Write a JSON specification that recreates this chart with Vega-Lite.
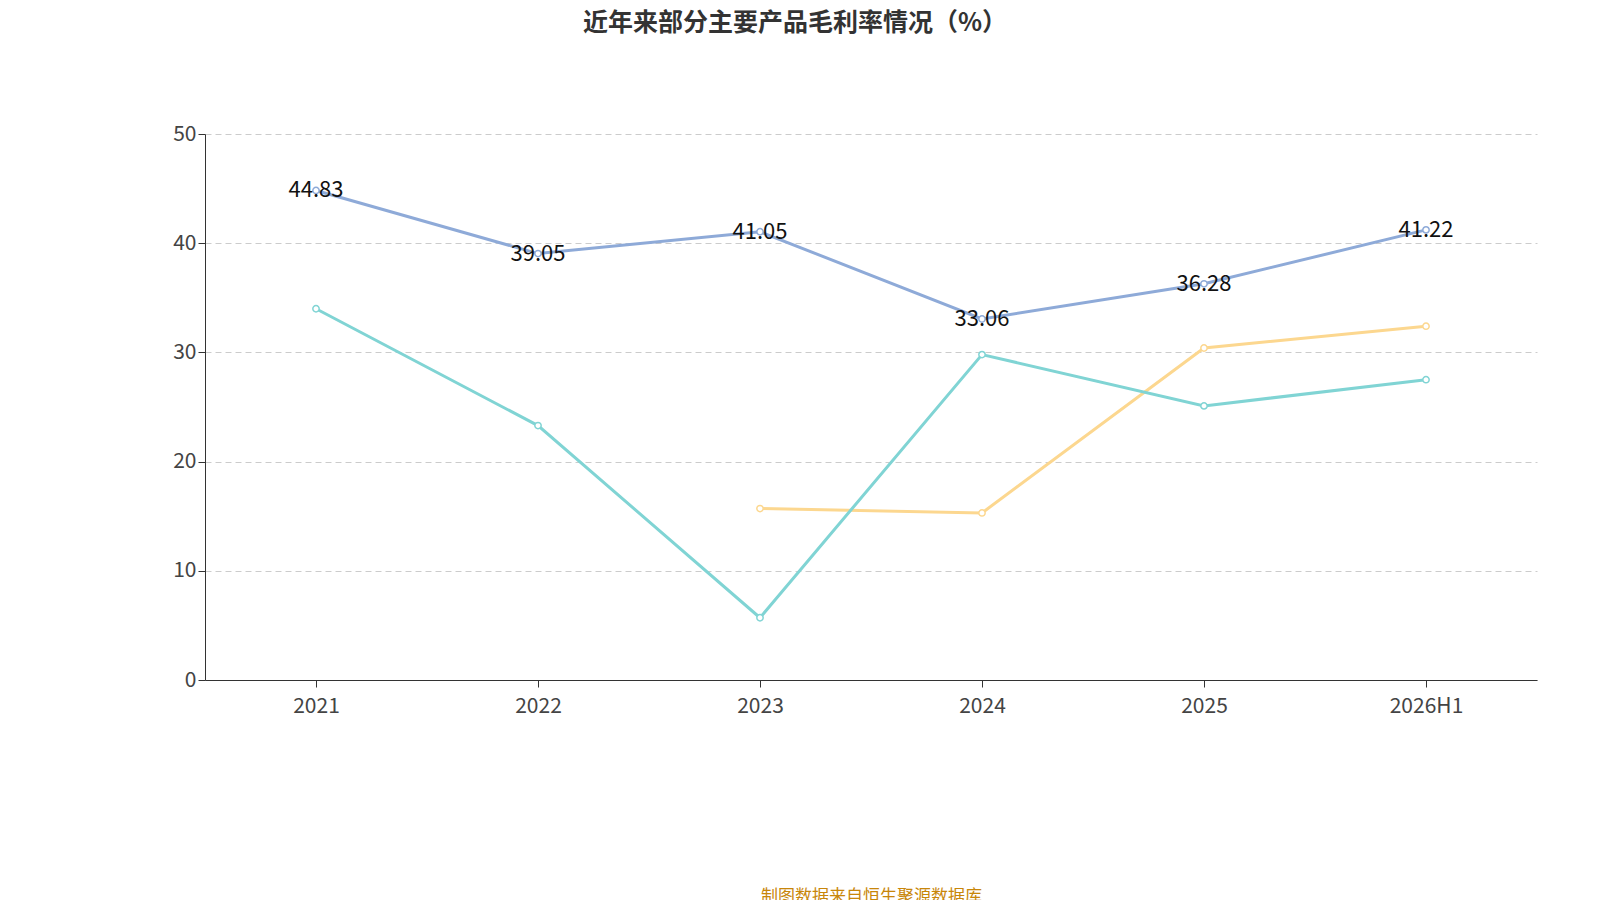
{
  "$schema": "https://vega.github.io/schema/vega-lite/v6.json",
  "autosize": "none",
  "width": 1332,
  "height": 546,
  "padding": {"left": 205, "top": 134, "right": 63, "bottom": 220},
  "background": "white",
  "config": {"view": {"stroke": null}, "font": "Noto Sans CJK SC"},
  "title": {"text": "近年来部分主要产品毛利率情况（%）", "fontSize": 25, "fontWeight": "bold", "color": "#333333", "anchor": "middle", "dx": -76, "offset": 87},
  "data": {"values": [
    {"year": "2021", "s": "功能耐火材料", "v": 44.83},
    {"year": "2022", "s": "功能耐火材料", "v": 39.05},
    {"year": "2023", "s": "功能耐火材料", "v": 41.05},
    {"year": "2024", "s": "功能耐火材料", "v": 33.06},
    {"year": "2025", "s": "功能耐火材料", "v": 36.28},
    {"year": "2026H1", "s": "功能耐火材料", "v": 41.22},
    {"year": "2023", "s": "碳化硅复合材料", "v": 15.7},
    {"year": "2024", "s": "碳化硅复合材料", "v": 15.3},
    {"year": "2025", "s": "碳化硅复合材料", "v": 30.4},
    {"year": "2026H1", "s": "碳化硅复合材料", "v": 32.4},
    {"year": "2021", "s": "不定形耐火材料", "v": 34.0},
    {"year": "2022", "s": "不定形耐火材料", "v": 23.3},
    {"year": "2023", "s": "不定形耐火材料", "v": 5.7},
    {"year": "2024", "s": "不定形耐火材料", "v": 29.8},
    {"year": "2025", "s": "不定形耐火材料", "v": 25.1},
    {"year": "2026H1", "s": "不定形耐火材料", "v": 27.5}
  ]},
  "encoding": {
    "x": {"field": "year", "type": "ordinal", "scale": {"type": "point", "padding": 0.5},
      "axis": {"title": "制图数据来自恒生聚源数据库", "titleColor": "#c8860a", "titleFontSize": 17, "titleFontWeight": "normal", "titlePadding": 172,
        "labelAngle": 0, "labelFontSize": 21, "labelColor": "#444", "labelPadding": 8, "domainColor": "#333", "tickColor": "#333", "tickSize": 7, "grid": false}},
    "y": {"field": "v", "type": "quantitative", "scale": {"domain": [0, 50]},
      "axis": {"title": null, "tickCount": 5, "labelFontSize": 21, "labelColor": "#444", "domainColor": "#333", "tickColor": "#333", "tickSize": 7,
        "gridDash": [6, 4], "gridColor": "#cccccc"}}
  },
  "layer": [
    {"mark": {"type": "line", "strokeWidth": 3},
      "encoding": {"color": {"field": "s", "type": "nominal", "legend": null,
        "scale": {"domain": ["功能耐火材料", "碳化硅复合材料", "不定形耐火材料"], "range": ["#8eaad8", "#fcd78f", "#80d4d4"]}}}},
    {"mark": {"type": "point", "filled": false, "fill": "white", "fillOpacity": 1, "opacity": 1, "size": 40, "strokeWidth": 1.5, "shape": "circle"},
      "encoding": {"stroke": {"field": "s", "type": "nominal",
        "scale": {"domain": ["功能耐火材料", "碳化硅复合材料", "不定形耐火材料"], "range": ["#8eaad8", "#fcd78f", "#80d4d4"]},
        "legend": {"title": null, "orient": "none", "legendX": 236, "legendY": 672, "direction": "horizontal", "labelFontSize": 22, "labelColor": "#444",
          "symbolType": "circle", "symbolSize": 450, "symbolStrokeWidth": 2, "symbolFillColor": "white", "columnPadding": 24, "labelOffset": 14}}}},
    {"transform": [{"filter": "datum.s == '功能耐火材料'"}],
      "mark": {"type": "text", "fontSize": 22, "color": "#111", "baseline": "middle"},
      "encoding": {"text": {"field": "v", "format": ".2f"}}}
  ]
}
